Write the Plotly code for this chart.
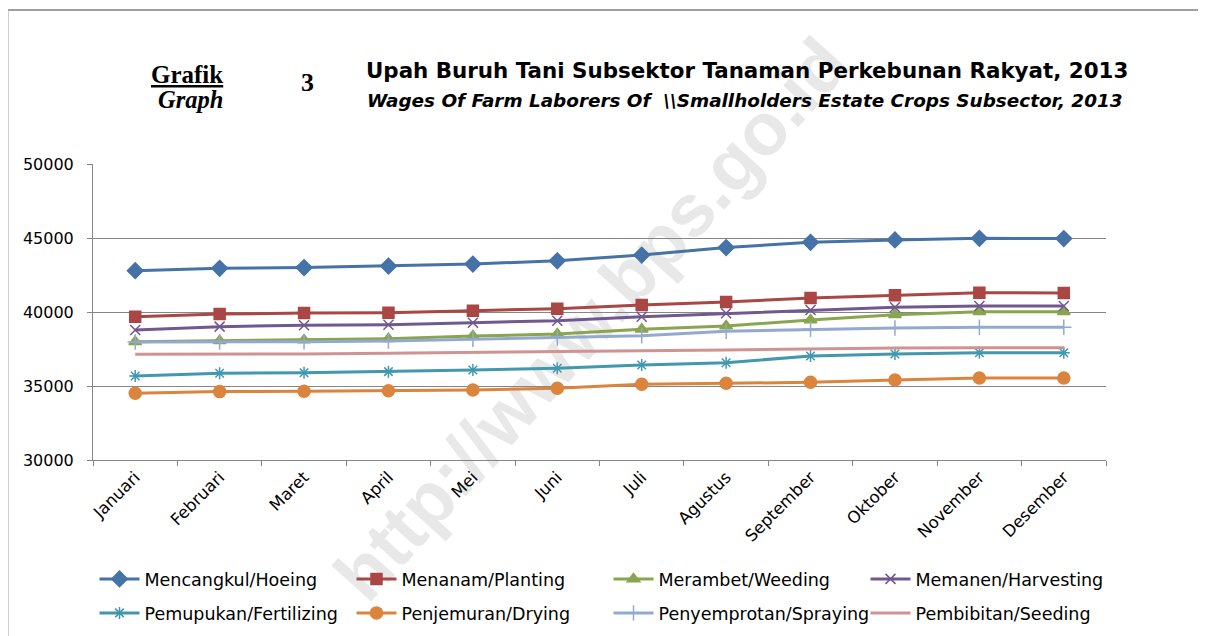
import plotly.graph_objects as go

# months on x axis
months = ["Januari", "Februari", "Maret", "April", "Mei", "Juni", "Juli",
          "Agustus", "September", "Oktober", "November", "Desember"]

# wages per activity (Rupiah/day)
hoeing = [42790, 42950, 43000, 43100, 43240, 43460, 43850, 44350, 44710, 44870, 44980, 44960]
planting = [39680, 39860, 39930, 39950, 40090, 40220, 40470, 40680, 40950, 41130, 41300, 41290]
weeding = [37990, 38060, 38110, 38200, 38380, 38510, 38830, 39050, 39460, 39820, 40020, 40020]
harvesting = [38780, 39010, 39100, 39140, 39280, 39410, 39680, 39910, 40140, 40320, 40400, 40400]
fertilizing = [35680, 35860, 35900, 35970, 36080, 36200, 36420, 36570, 37030, 37160, 37250, 37250]
drying = [34510, 34620, 34640, 34680, 34730, 34850, 35120, 35180, 35250, 35400, 35540, 35540]
spraying = [37970, 37970, 37990, 38040, 38160, 38240, 38400, 38700, 38830, 38920, 38970, 38970]
seeding = [37140, 37140, 37160, 37210, 37280, 37300, 37390, 37430, 37520, 37570, 37590, 37590]

# name, values, colour, marker, marker size, legend row
series = [
    ("Mencangkul/Hoeing", hoeing, "#4572A7", "diamond", 12, "legend"),
    ("Menanam/Planting", planting, "#AA4643", "square", 11, "legend"),
    ("Merambet/Weeding", weeding, "#89A54E", "triangle-up", 11, "legend"),
    ("Memanen/Harvesting", harvesting, "#71588F", "x-thin-open", 10, "legend"),
    ("Pemupukan/Fertilizing", fertilizing, "#4198AF", "asterisk-open", 10, "legend2"),
    ("Penjemuran/Drying", drying, "#DB843D", "circle", 12, "legend2"),
    ("Penyemprotan/Spraying", spraying, "#93A9CF", "cross-thin-open", 11, "legend2"),
    ("Pembibitan/Seeding", seeding, "#D19392", None, 0, "legend2"),
]

# the page body adds an 8px offset, so the figure is drawn 8px in
OFF = 8
W, H = 1206 - OFF, 636 - OFF
# plot area in screen pixels: x 93..1106, y 164..460
X0, X1, Y0, Y1 = 93, 1106, 164, 460
L, T = X0 - OFF, Y0 - OFF
R, B = W - (X1 - OFF), H - (Y1 - OFF)
PW, PH = X1 - X0, Y1 - Y0


def px(x):
    return (x - X0) / PW


def py(y):
    return (Y1 - y) / PH


fig = go.Figure()

for name, vals, color, sym, size, leg in series:
    marker = dict(color=color, size=size, symbol=sym, line=dict(color=color, width=1.5)) if sym else None
    fig.add_trace(go.Scatter(
        x=months,
        y=vals,
        name=name,
        mode='lines+markers' if sym else 'lines',
        line=dict(color=color, width=3),
        marker=marker,
        legend=leg,
    ))

font = "DejaVu Sans"
# x just left of the plot edge so a row may use the left margin too (4 per row)
leg_style = dict(
    orientation="h", xanchor="left", yanchor="middle",
    entrywidth=200, entrywidthmode="pixels", indentation=2,
    font=dict(size=17.5, family=font),
    itemwidth=40, bgcolor="rgba(0,0,0,0)",
)

fig.update_layout(
    width=W,
    height=H,
    margin=dict(l=L, r=R, t=T, b=B, autoexpand=False),
    paper_bgcolor="white",
    plot_bgcolor="white",
    font=dict(family=font, color="black"),
    showlegend=True,
    legend=dict(x=px(92.5), y=py(579), **leg_style),
    legend2=dict(x=px(92.5), y=py(613), **leg_style),
)

fig.update_xaxes(
    type="category", range=[-0.5, len(months) - 0.5],
    showline=True, linecolor="#868686", linewidth=1,
    ticks="outside", ticklen=5, tickcolor="#868686", tickson="boundaries",
    tickangle=-45, tickfont=dict(size=16.5, family=font),
    showgrid=False, mirror=False,
)
fig.update_yaxes(
    range=[30000, 50000], dtick=5000, tickformat="d",
    showline=True, linecolor="#868686", linewidth=1,
    ticks="outside", ticklen=5, tickcolor="#868686", ticklabelstandoff=10,
    showgrid=True, gridcolor="#868686", gridwidth=1,
    tickfont=dict(size=16, family=font), zeroline=False,
)

# outer frame (left and top edges only visible)
fig.add_shape(type="line", xref="paper", yref="paper",
              x0=px(7.5), x1=px(7.5), y0=py(10), y1=py(640),
              line=dict(color="#a0a0a0", width=2))
fig.add_shape(type="line", xref="paper", yref="paper",
              x0=px(7), x1=px(1210), y0=py(10), y1=py(10),
              line=dict(color="#a0a0a0", width=2))

# watermark, kept behind the data
fig.add_shape(type="line", xref="paper", yref="paper", layer="below",
              x0=px(367), y0=py(620), x1=px(867), y1=py(70),
              line=dict(width=0, color="rgba(0,0,0,0)"),
              label=dict(text="<b>http://www.bps.go.id</b>", textangle=-48,
                         textposition="middle",
                         font=dict(size=74, color="#e8e8e8", family="Liberation Sans")))

# titles
title_bits = [
    ("<b><u>Grafik</u></b>", 187, 74, "center", "Liberation Serif", 25),
    ("<b><i>Graph</i></b>", 190, 99, "center", "Liberation Serif", 24.5),
    ("<b>3</b>", 307, 82, "center", "Liberation Serif", 26),
    ("<b>Upah Buruh Tani Subsektor Tanaman Perkebunan Rakyat, 2013</b>",
     364, 71, "left", font, 21.4),
    ("<b><i>Wages Of Farm Laborers Of  \\\\Smallholders Estate Crops Subsector, 2013</i></b>",
     365, 101, "left", font, 18.4),
]
for text, x, y, anchor, fam, size in title_bits:
    fig.add_annotation(xref="paper", yref="paper", x=px(x), y=py(y),
                       xanchor=anchor, yanchor="middle", text=text, showarrow=False,
                       font=dict(family=fam, size=size))

fig.write_html("out.html")
